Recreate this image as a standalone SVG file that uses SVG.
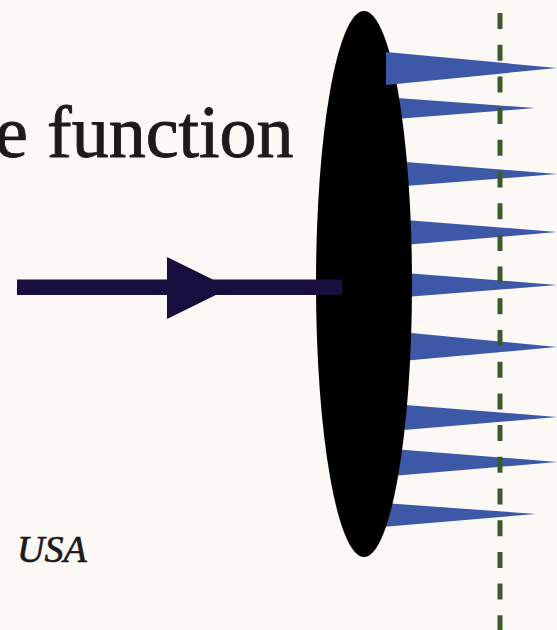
<svg xmlns="http://www.w3.org/2000/svg" width="557" height="630" viewBox="0 0 557 630">
  <style>
    .spike { fill: #3d58a7; }
    .lbl { font-family: "Liberation Serif", "Times New Roman", serif; fill: #1c1a1a; stroke: #1c1a1a; }
  </style>
  <rect x="0" y="0" width="557" height="630" fill="#fbf8f5"/>
  <g id="title">
    <text class="lbl" x="-5" y="157" font-size="74" stroke-width="0.9"><tspan>e</tspan><tspan x="47">function</tspan></text>
  </g>
  <g id="usa">
    <text class="lbl" x="17" y="562" font-size="38" font-style="italic" stroke-width="0.7">USA</text>
  </g>
  <g id="spikes">
    <polygon class="spike" points="370,96 535,108 370,121"/>
    <polygon class="spike" points="380,160 557,174 380,188"/>
    <polygon class="spike" points="380,218 557,232 380,247"/>
    <polygon class="spike" points="380,271 557,285 380,299"/>
    <polygon class="spike" points="380,330 557,347 380,363"/>
    <polygon class="spike" points="380,403 557,417 380,432"/>
    <polygon class="spike" points="380,448 557,462 380,477"/>
    <polygon class="spike" points="370,502 536,514 370,528"/>
  </g>
  <g id="lens">
    <ellipse cx="364" cy="284" rx="48" ry="273" fill="#000"/>
  </g>
  <g id="topspike">
    <polygon class="spike" points="386,52 557,68 386,85"/>
  </g>
  <g id="connectors">
    <line x1="500" y1="13" x2="500" y2="630" stroke="#3a5a2c" stroke-width="5" stroke-dasharray="16 15.7"/>
    <rect x="17" y="279.5" width="325" height="15.5" fill="#170f3d"/>
    <polygon points="167,257 230,288 167,319" fill="#170f3d"/>
  </g>
</svg>
